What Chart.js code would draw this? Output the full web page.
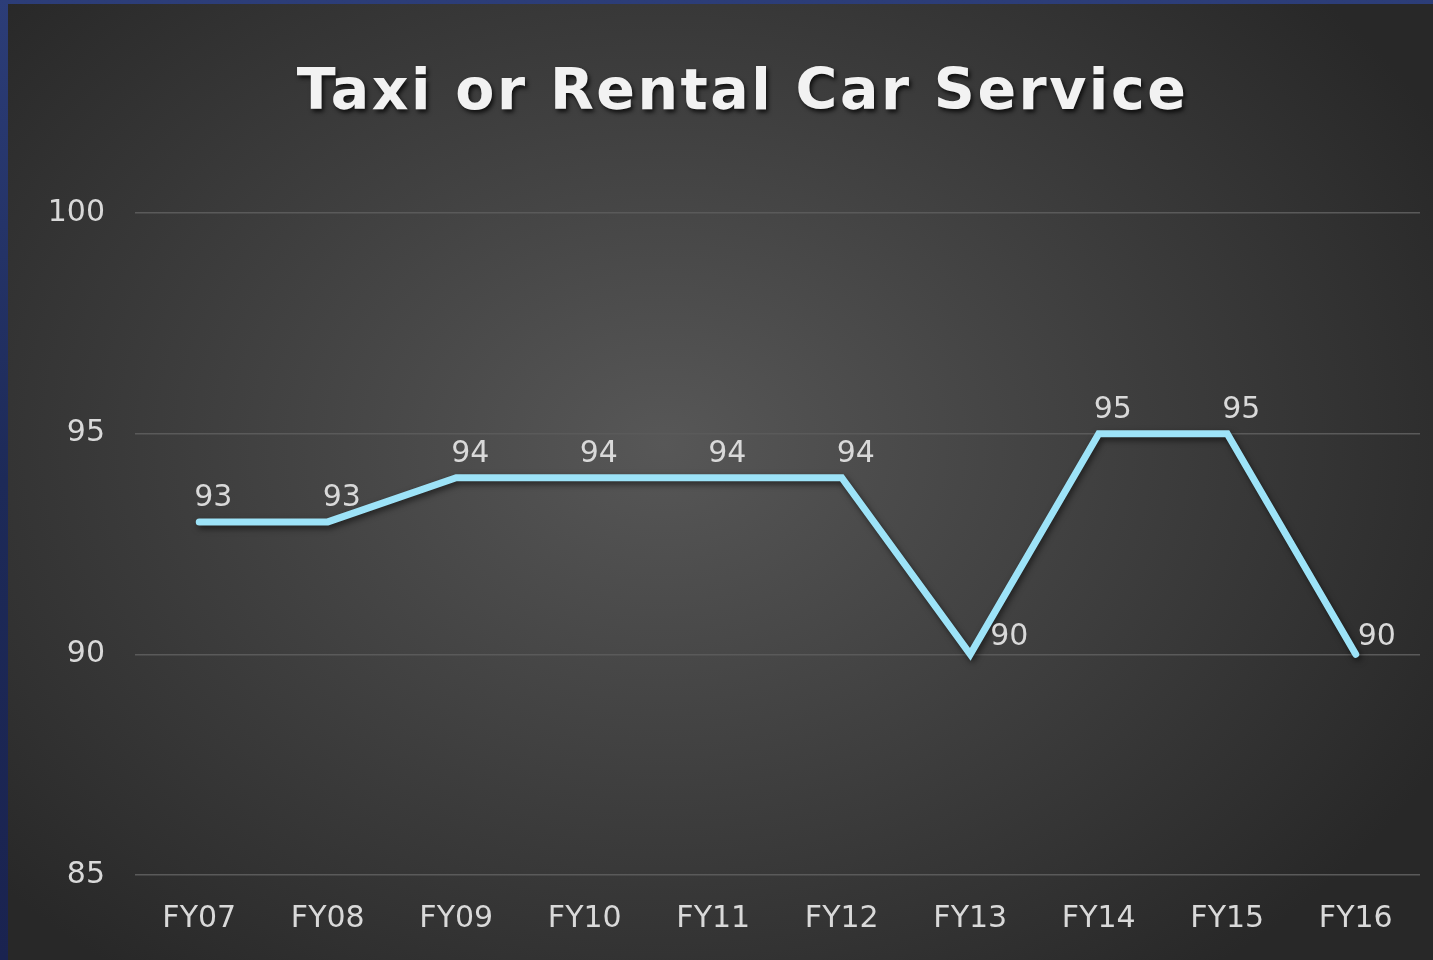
<!DOCTYPE html>
<html>
<head>
<meta charset="utf-8">
<script src="https://cdn.jsdelivr.net/npm/chart.js@4"></script>
<style>
    html, body { margin: 0; padding: 0; }
    body {
        width: 1433px;
        height: 960px;
        background: linear-gradient(180deg, #2c3d78 0%, #1d2a58 50%, #1a2350 100%);
        overflow: hidden;
    }
    #panel {
        position: absolute;
        left: 8px;
        top: 4px;
        width: 1425px;
        height: 956px;
        background: radial-gradient(ellipse 62% 70% at 46% 46%, #575757 0%, #3d3d3d 55%, #282828 100%);
    }
    #title {
        position: absolute;
        left: 0;
        top: 52px;
        width: 1425px;
        margin: 0;
        padding-left: 44px;
        box-sizing: border-box;
        text-align: center;
        font-family: "DejaVu Sans", sans-serif;
        font-weight: bold;
        font-size: 57px;
        letter-spacing: 2.5px;
        color: #f2f2f2;
        text-shadow: 2px 3px 4px rgba(0, 0, 0, 0.75);
    }
    #chart { position: absolute; left: 0; top: 0; }
</style>
</head>
<body>
<div id="panel">
    <h1 id="title">Taxi or Rental Car Service</h1>
    <canvas id="chart" width="1425" height="956"></canvas>
</div>
<script>
const years = ['FY07', 'FY08', 'FY09', 'FY10', 'FY11', 'FY12', 'FY13', 'FY14', 'FY15', 'FY16'];
const scores = [93, 93, 94, 94, 94, 94, 90, 95, 95, 90];
const yTicks = [85, 90, 95, 100];

const labelColor = '#d9d9d9';
const fontFamily = '"DejaVu Sans", sans-serif';
const labelFont = '30px ' + fontFamily;

// soft shadow under the line
const lineShadow = {
    id: 'lineShadow',
    beforeDatasetDraw(chart) {
        const ctx = chart.ctx;
        ctx.save();
        ctx.shadowColor = 'rgba(0, 0, 0, 0.55)';
        ctx.shadowBlur = 6;
        ctx.shadowOffsetX = 2;
        ctx.shadowOffsetY = 3;
    },
    afterDatasetDraw(chart) {
        chart.ctx.restore();
    }
};

// value labels: above the point, or to the right for dips
const valueLabels = {
    id: 'valueLabels',
    afterDatasetsDraw(chart) {
        const ctx = chart.ctx;
        const meta = chart.getDatasetMeta(0);
        const data = chart.data.datasets[0].data;
        ctx.save();
        ctx.font = labelFont;
        ctx.fillStyle = labelColor;
        ctx.textBaseline = 'alphabetic';
        meta.data.forEach((pt, i) => {
            const last = i === data.length - 1;
            const prev = i > 0 ? data[i - 1] : Infinity;
            const next = !last ? data[i + 1] : Infinity;
            if (data[i] < prev && data[i] < next) {
                ctx.textAlign = 'left';
                ctx.fillText(data[i], pt.x + (last ? 2 : 20), pt.y - 9);
            } else {
                ctx.textAlign = 'center';
                ctx.fillText(data[i], pt.x + 14, pt.y - 16);
            }
        });
        ctx.restore();
    }
};

new Chart(document.getElementById('chart'), {
    type: 'line',
    data: {
        labels: years,
        datasets: [{
            label: 'Taxi or Rental Car Service',
            data: scores,
            borderColor: '#9de3f8',
            borderWidth: 7,
            borderCapStyle: 'round',
            borderJoinStyle: 'miter',
            pointRadius: 0,
            tension: 0,
            fill: false
        }]
    },
    options: {
        responsive: false,
        animation: false,
        devicePixelRatio: 1,
        layout: { padding: { top: 209, right: 13, left: 0, bottom: 0 } },
        plugins: {
            legend: { display: false },
            tooltip: { enabled: false },
            title: { display: false }
        },
        scales: {
            x: {
                offset: true,
                grid: { display: false, drawTicks: false },
                border: { display: false },
                ticks: {
                    color: labelColor,
                    font: { family: fontFamily, size: 30 },
                    padding: 26,
                    maxRotation: 0
                },
                afterFit(scale) { scale.height = 85; }
            },
            y: {
                min: 85,
                max: 100,
                afterBuildTicks(scale) { scale.ticks = yTicks.map(v => ({ value: v })); },
                grid: { color: '#5a5a5a', lineWidth: 1.5, drawTicks: false },
                border: { display: false },
                ticks: {
                    color: labelColor,
                    font: { family: fontFamily, size: 30 },
                    padding: 30
                },
                afterFit(scale) { scale.width = 127; }
            }
        }
    },
    plugins: [lineShadow, valueLabels]
});
</script>
</body>
</html>
